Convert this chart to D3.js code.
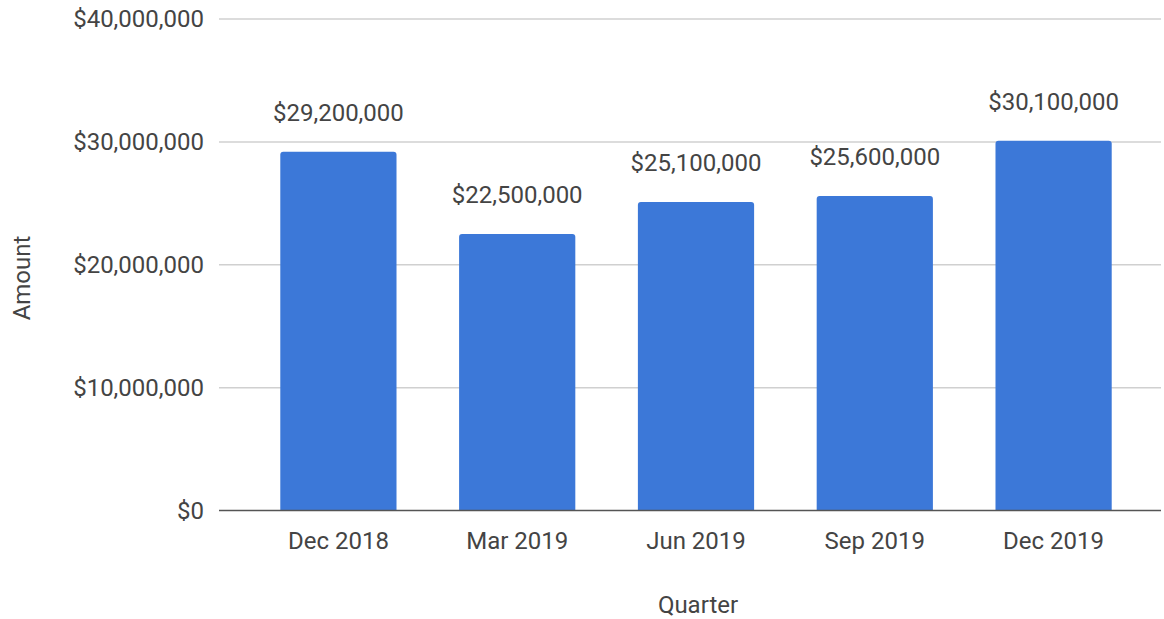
<!DOCTYPE html>
<html>
<head>
<meta charset="utf-8">
<script src="https://cdn.jsdelivr.net/npm/d3@7"></script>
<style>
  body { margin: 0; background: #fff; }
  text { font-family: Roboto, "Noto Sans", sans-serif; fill: #444; }
</style>
</head>
<body>
<div id="chart"></div>
<script>
// quarterly amounts
const quarters = ["Dec 2018", "Mar 2019", "Jun 2019", "Sep 2019", "Dec 2019"];
const amounts = [29200000, 22500000, 25100000, 25600000, 30100000];
const yTicks = [0, 10000000, 20000000, 30000000, 40000000];

const WIDTH = 1164, HEIGHT = 619;
const FONT = 24;

const svg = d3.select("#chart").append("svg")
    .attr("width", WIDTH)
    .attr("height", HEIGHT);

const x = d3.scaleBand()
    .domain(quarters)
    .range([249, 1143])
    .paddingInner(0.35)
    .paddingOuter(0.175);

const y = d3.scaleLinear()
    .domain([0, 40000000])
    .range([510.5, 19]);

const money = d3.format("$,.0f");

// gridlines
svg.append("g")
    .selectAll("line")
    .data(yTicks.filter(d => d > 0))
    .join("line")
    .attr("x1", 219).attr("x2", 1161)
    .attr("y1", d => y(d)).attr("y2", d => y(d))
    .attr("stroke", "#d0d0d0")
    .attr("stroke-width", 1.5);

// y tick labels
svg.append("g")
    .selectAll("text")
    .data(yTicks)
    .join("text")
    .attr("x", 204)
    .attr("y", d => y(d))
    .attr("dy", "0.35em")
    .attr("text-anchor", "end")
    .style("font-size", FONT + "px")
    .text(d => money(d));

// bars with slightly rounded tops
const R = 3;
svg.append("g")
    .selectAll("path")
    .data(amounts)
    .join("path")
    .attr("d", (d, i) => {
        const x0 = x(quarters[i]), w = x.bandwidth();
        const top = y(d), bottom = y(0);
        return `M${x0},${bottom}V${top + R}Q${x0},${top} ${x0 + R},${top}` +
            `H${x0 + w - R}Q${x0 + w},${top} ${x0 + w},${top + R}V${bottom}Z`;
    })
    .attr("fill", "#3c78d8");

// baseline
svg.append("line")
    .attr("x1", 219).attr("x2", 1161)
    .attr("y1", y(0)).attr("y2", y(0))
    .attr("stroke", "#555")
    .attr("stroke-width", 1.5);

// value labels
svg.append("g")
    .selectAll("text")
    .data(amounts)
    .join("text")
    .attr("x", (d, i) => x(quarters[i]) + x.bandwidth() / 2)
    .attr("y", d => y(d) - 31)
    .attr("text-anchor", "middle")
    .style("font-size", FONT + "px")
    .text(d => money(d));

// x tick labels
svg.append("g")
    .selectAll("text")
    .data(quarters)
    .join("text")
    .attr("x", d => x(d) + x.bandwidth() / 2)
    .attr("y", 549)
    .attr("text-anchor", "middle")
    .style("font-size", FONT + "px")
    .text(d => d);

// axis titles
svg.append("text")
    .attr("x", 698)
    .attr("y", 613)
    .attr("text-anchor", "middle")
    .style("font-size", FONT + "px")
    .text("Quarter");

svg.append("text")
    .attr("transform", "translate(30,278) rotate(-90)")
    .attr("text-anchor", "middle")
    .style("font-size", FONT + "px")
    .text("Amount");
</script>
</body>
</html>
